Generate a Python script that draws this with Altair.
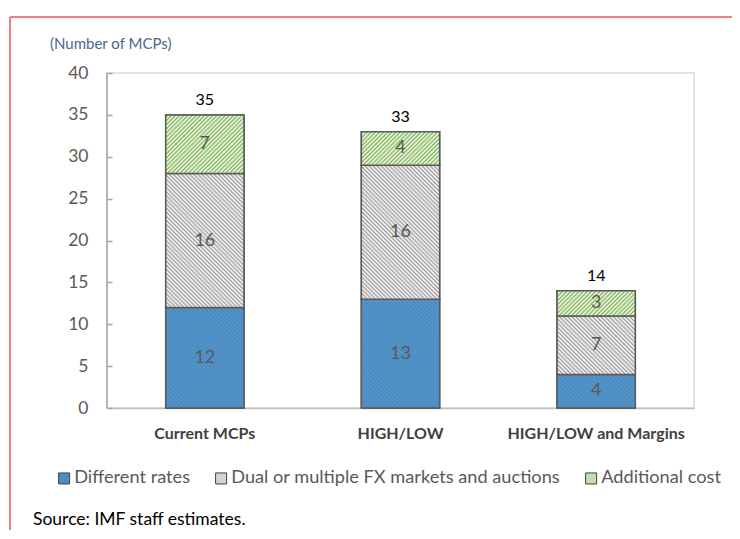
import math
import altair as alt
import pandas as pd

# ---- data ----
categories = ["Current MCPs", "HIGH/LOW", "HIGH/LOW and Margins"]
series = ["Different rates", "Dual or multiple FX markets and auctions", "Additional cost"]
different_rates = [12, 13, 4]
dual_markets = [16, 16, 7]
additional_cost = [7, 4, 3]
totals = [35, 33, 14]
y_ticks = [0, 5, 10, 15, 20, 25, 30, 35, 40]
title_text = "(Number of MCPs)"
source_text = "Source: IMF staff estimates."

# ---- styling ----
FONT = "Lato"
W, H = 587, 335
YMAX = 40
BAR_W = W / 3 * 0.4
flat_colors = ["#4b8dc3", "#d4d4d4", "#c3dfae"]
stripe_styles = [("\\", "#4787be", "#5899cb"), ("\\", "#ffffff", "#9c9c9c"), ("/", "#ffffff", "#7db44f")]

rows = []
for i, cat in enumerate(categories):
    start = 0
    for k, (s, vals) in enumerate(zip(series, [different_rates, dual_markets, additional_cost])):
        v = vals[i]
        rows.append(dict(category=cat, series=s, value=v, start=start, end=start + v,
                         mid=start + v / 2, k=k))
        start += v
df = pd.DataFrame(rows)
tot_df = pd.DataFrame({"category": categories, "total": totals})


def stripes(w, h, direction, c_bg, c_line, period=2.9):
    n = max(1, round((w + h) / (math.sqrt(2) * period)))
    c = (1 / h + 1 / w) / (1 / h ** 2 + 1 / w ** 2)
    if direction == "\\":
        x1, y1, x2, y2 = 0, 1, c / h, 1 - c / w
    else:
        x1, y1, x2, y2 = 0, 0, c / h, c / w
    stops = []
    for j in range(n):
        stops.append({"offset": j / n, "color": c_bg})
        stops.append({"offset": (j + 0.5) / n, "color": c_line})
    stops.append({"offset": 1, "color": c_bg})
    return {"gradient": "linear", "x1": x1, "y1": y1, "x2": x2, "y2": y2, "stops": stops}


x_axis = alt.Axis(title=None, labelAngle=0, labelFontWeight="bold", labelFontSize=16,
                  labelColor="#404040", labelFont=FONT, domainColor="#bfbfbf",
                  domainWidth=1.5, ticks=False, labelPadding=17)
x_scale = alt.Scale(domain=categories, paddingInner=0.6, paddingOuter=0.3)
y_axis = alt.Axis(values=y_ticks, title=None, offset=-5, tickSize=5, tickColor="#a6a6a6",
                  tickWidth=1.5, domain=False, grid=False, labelPadding=19, labelFontSize=17.5,
                  labelColor="#595959", labelFont=FONT)
y_scale = alt.Scale(domain=[0, YMAX], nice=False)


def X():
    return alt.X("category:N", sort=categories, scale=x_scale, axis=x_axis)


def Y(field):
    return alt.Y(field, scale=y_scale, axis=y_axis)


base = alt.Chart(df).mark_bar(stroke="#595959", strokeWidth=1.5).encode(
    x=X(),
    y=Y("start:Q"),
    y2="end:Q",
    color=alt.Color("series:N", sort=series,
                    scale=alt.Scale(domain=series, range=flat_colors),
                    legend=alt.Legend(title=None, orient="none", legendX=-52, legendY=396,
                                      direction="horizontal", symbolType="square",
                                      symbolSize=121, symbolStrokeColor="#404040",
                                      symbolStrokeWidth=1, labelFontSize=18.2,
                                      labelColor="#595959", labelFont=FONT, labelLimit=500,
                                      columnPadding=21, labelOffset=1)),
)

layers = [base]
for idx in range(len(df)):
    r = df.iloc[idx]
    h = r["value"] * H / YMAX
    d, cb, cl = stripe_styles[int(r["k"])]
    layers.append(
        alt.Chart(df.iloc[[idx]]).mark_bar(stroke="#595959", strokeWidth=1.5,
                                            fill=stripes(BAR_W, h, d, cb, cl)).encode(
            x=X(), y=Y("start:Q"), y2="end:Q")
    )

seg_text = alt.Chart(df).mark_text(font=FONT, fontSize=18, color="#595959", baseline="middle").encode(
    x=X(), y=Y("mid:Q"), text="value:Q")
tot_text = alt.Chart(tot_df).mark_text(font=FONT, fontSize=16, color="#000000",
                                       baseline="middle", dy=-15).encode(
    x=X(), y=Y("total:Q"), text="total:Q")

left_axis = alt.Chart(pd.DataFrame({"a": [0]})).mark_rule(color="#a6a6a6", strokeWidth=1.5).encode(
    x=alt.value(0), y=alt.value(0), y2=alt.value(H))

title_mark = alt.Chart(pd.DataFrame({"t": [title_text]})).mark_text(
    font=FONT, fontSize=15, color="#4a6890", align="left", baseline="middle").encode(
    text="t:N", x=alt.value(-57), y=alt.value(-29))
source_mark = alt.Chart(pd.DataFrame({"t": [source_text]})).mark_text(
    font=FONT, fontSize=17.5, color="#000000", align="left", baseline="middle").encode(
    text="t:N", x=alt.value(-74), y=alt.value(447))

red_left = alt.Chart(pd.DataFrame({"a": [0]})).mark_rule(color="#f47c7c", strokeWidth=2).encode(
    x=alt.value(-97), y=alt.value(-56), y2=alt.value(470))
red_top = alt.Chart(pd.DataFrame({"a": [0]})).mark_rule(color="#f47c7c", strokeWidth=2).encode(
    x=alt.value(-97), x2=alt.value(650), y=alt.value(-56))

chart = alt.layer(*layers, seg_text, tot_text, left_axis, title_mark, source_mark,
                  red_left, red_top).properties(
    width=W, height=H,
    autosize=alt.AutoSizeParams(type="none"),
    padding={"left": 99, "top": 65, "right": 38, "bottom": 122},
    background="#ffffff",
).configure_view(stroke="#d9d9d9", strokeWidth=1.5)

chart.save("out.html", embed_options={"renderer": "svg", "actions": False})
